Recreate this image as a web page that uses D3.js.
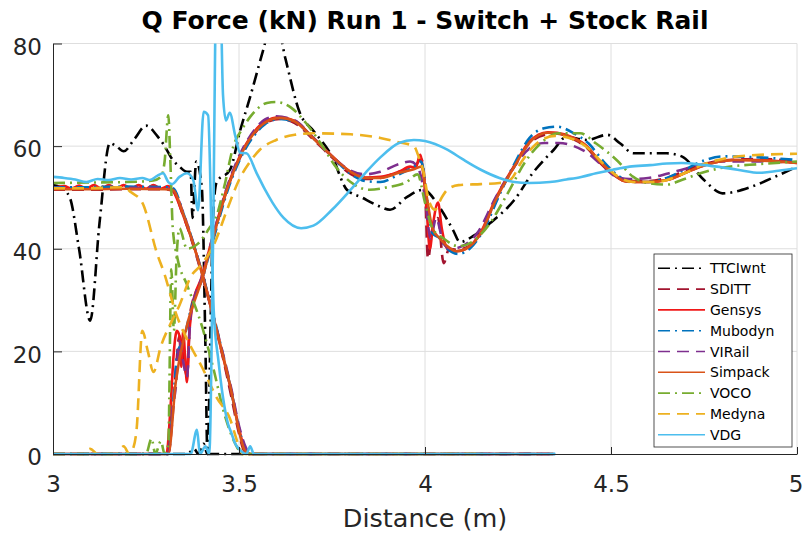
<!DOCTYPE html>
<html lang="en">
<head>
<meta charset="UTF-8" />
<title>Q Force (kN) Run 1 - Switch + Stock Rail</title>
<script src="https://d3js.org/d3.v7.min.js"></script>
<style>
  html, body { margin: 0; padding: 0; background: #ffffff; overflow: hidden; }
  svg { display: block; font-family: 'DejaVu Sans', sans-serif; }
  .grid line { stroke: #dedede; stroke-width: 1; }
  .axis path, .axis line { stroke: #262626; stroke-width: 1; }
  .axis text { font-size: 23px; fill: #262626; font-family: 'DejaVu Sans', sans-serif; }
  .title { font-size: 25px; font-weight: bold; fill: #000; text-anchor: middle; }
  .xlabel { font-size: 25.5px; fill: #262626; text-anchor: middle; }
  .legend text { font-size: 14px; fill: #000; }
</style>
</head>
<body>
<svg id="chart" width="803" height="540"></svg>
<script>
// ---- data ----
const xTicks = [3, 3.5, 4, 4.5, 5];
const xTickLabels = ["3", "3.5", "4", "4.5", "5"];
const yTicks = [0, 20, 40, 60, 80];
const yTickLabels = ["0", "20", "40", "60", "80"];

const modelNames = ["TTCIwnt", "SDITT", "Gensys", "Mubodyn", "VIRail", "Simpack", "VOCO", "Medyna", "VDG"];
const modelColors = ["#000000", "#A2142F", "#F01818", "#0072BD", "#7E2F8E", "#D95319", "#77AC30", "#EDB120", "#4DBEEE"];
const modelStyles = ["dashdot", "dash", "solid", "dashdot", "dash", "solid", "dashdot", "dash", "solid"];

// each model: stock rail (starts loaded, unloads) and switch rail (picks up load)
const ttciStock = [[3,52.4],[3.02,52],[3.045,50],[3.07,40],[3.1,26],[3.125,45],[3.153,60.6],[3.17,60],[3.19,59],[3.22,61.5],[3.25,64],[3.28,62],[3.3,60],[3.32,57.5],[3.34,56],[3.36,55],[3.37,55],[3.375,46],[3.385,57],[3.4,52],[3.41,20],[3.415,0],[4.315,0]];
const ttciSwitch = [[3,0],[3.36,0],[3.38,1],[3.39,0],[3.405,2],[3.415,0],[3.425,30],[3.43,46],[3.44,53],[3.476,55.4],[3.503,63],[3.53,69.6],[3.565,78.7],[3.595,86],[3.625,77],[3.664,66.4],[3.7,63],[3.75,58],[3.79,51.5],[3.83,50],[3.87,48.5],[3.906,47.6],[3.95,50],[3.995,51.5],[4.04,48],[4.075,43.7],[4.094,41.3],[4.13,42.5],[4.175,45],[4.24,49.5],[4.29,54.8],[4.345,59.2],[4.38,61.8],[4.435,61.2],[4.49,62.2],[4.525,60.5],[4.56,58.6],[4.65,58.6],[4.69,58],[4.75,53.4],[4.8,50.8],[4.874,52],[4.94,54],[5,56]];

const sdittStock = [[3,51.5],[3.1,51.5],[3.2,51.6],[3.3,51.6],[3.322,51.3],[3.35,46.5],[3.4,35],[3.45,21],[3.48,11],[3.5,4],[3.515,0.5],[3.53,0],[4.34,0]];
const sdittSwitch = [[3,0],[3.31,0],[3.32,6],[3.33,16],[3.34,23],[3.35,19],[3.36,15],[3.37,28],[3.4,34],[3.43,42],[3.47,52],[3.5,57.3],[3.54,62.3],[3.57,64.5],[3.61,65.3],[3.65,64.5],[3.7,61.3],[3.75,57.8],[3.8,54.6],[3.84,53.6],[3.88,53.8],[3.93,55],[3.97,55.8],[3.99,57.5],[4,52],[4.008,38],[4.02,44],[4.035,46],[4.05,37.2],[4.065,40],[4.085,39.8],[4.11,40.2],[4.15,43],[4.19,49.5],[4.24,56],[4.28,60.5],[4.33,62.3],[4.355,62.4],[4.4,61.3],[4.435,59.7],[4.47,56.8],[4.505,54.5],[4.54,53.2],[4.6,53.2],[4.65,53.8],[4.7,55.2],[4.74,56.3],[4.8,57.2],[4.9,57.5],[5,57]];

const gensysStock = [[3,51.8],[3.03,52.2],[3.05,51.7],[3.07,52.3],[3.09,51.7],[3.11,52.4],[3.13,51.7],[3.15,52.4],[3.17,51.7],[3.19,52.4],[3.21,51.7],[3.23,52.4],[3.25,51.7],[3.27,52.4],[3.29,51.7],[3.31,52.2],[3.325,51],[3.35,46.5],[3.4,35.5],[3.45,21],[3.48,12],[3.5,5],[3.515,1],[3.53,0],[4.345,0]];
const gensysSwitch = [[3,0],[3.305,0],[3.315,8],[3.325,20],[3.333,24],[3.34,23],[3.345,17],[3.35,24],[3.355,19],[3.36,14],[3.365,22],[3.375,29],[3.4,34.5],[3.43,42.5],[3.47,52.3],[3.5,57.7],[3.54,62.7],[3.57,64.8],[3.61,65.6],[3.65,64.9],[3.7,61.6],[3.75,58.1],[3.8,55],[3.84,53.9],[3.88,54],[3.93,55],[3.96,56],[3.975,55.8],[3.987,58.3],[3.995,55],[4.005,47],[4.013,40],[4.022,45],[4.035,49],[4.045,44],[4.06,40],[4.085,39.5],[4.11,40],[4.15,43.2],[4.19,49.8],[4.24,56.2],[4.28,60.8],[4.33,62.7],[4.355,62.6],[4.4,61.6],[4.435,60],[4.47,57],[4.505,54.7],[4.54,53.1],[4.6,53],[4.65,53.4],[4.7,54.8],[4.74,56],[4.83,57.3],[4.9,57.3],[5,56.7]];

const mubodynStock = [[3,52],[3.1,52],[3.2,52.1],[3.3,52],[3.323,51.8],[3.35,47],[3.4,35.5],[3.45,21.5],[3.48,12],[3.5,5],[3.52,0.5],[3.535,0],[4.35,0]];
const mubodynSwitch = [[3,0],[3.31,0],[3.32,7],[3.335,20],[3.35,22],[3.37,28],[3.4,34],[3.43,41.5],[3.47,51.5],[3.5,57],[3.54,62],[3.57,64.3],[3.61,65.3],[3.65,64.7],[3.7,61.5],[3.75,58],[3.8,54.6],[3.84,53.2],[3.88,53],[3.93,54.5],[3.97,56],[3.99,57],[4.005,50],[4.02,43],[4.04,42],[4.06,40],[4.09,39],[4.12,40],[4.16,44],[4.2,50.5],[4.24,56.5],[4.28,61.5],[4.32,63.5],[4.355,63.8],[4.4,62.5],[4.44,60.5],[4.48,57],[4.515,54.5],[4.55,53],[4.6,53],[4.65,53.8],[4.7,55.5],[4.75,57.2],[4.8,58],[4.9,57.8],[5,57.3]];

const virailStock = [[3,51.9],[3.1,51.8],[3.2,51.9],[3.3,51.8],[3.322,51.5],[3.35,47],[3.4,35.2],[3.45,21.5],[3.48,12.5],[3.5,5.5],[3.52,1],[3.535,0],[4.34,0]];
const virailSwitch = [[3,0],[3.31,0],[3.32,8],[3.33,13],[3.34,22],[3.35,18],[3.36,15],[3.37,27],[3.4,34.5],[3.43,42.5],[3.47,52.5],[3.5,58],[3.54,63],[3.57,65.2],[3.6,65.8],[3.65,65],[3.7,61.6],[3.75,58],[3.8,55.2],[3.84,54.5],[3.88,55],[3.93,56.5],[3.96,57],[3.98,56],[4,50],[4.015,42],[4.03,46],[4.05,41],[4.07,40],[4.1,40.5],[4.14,43],[4.19,50],[4.24,56],[4.28,59.5],[4.32,60.6],[4.36,60.6],[4.4,60],[4.44,58.5],[4.48,56],[4.515,54],[4.55,53.6],[4.6,53.8],[4.65,54.6],[4.7,55.6],[4.75,56.5],[4.8,57],[4.9,57],[5,56.8]];

const simpackStock = [[3,51.6],[3.1,51.6],[3.2,51.7],[3.3,51.6],[3.323,51.4],[3.35,46.8],[3.4,35.3],[3.45,21.2],[3.48,12],[3.5,4.5],[3.515,0.8],[3.53,0],[4.345,0]];
const simpackSwitch = [[3,0],[3.31,0],[3.33,14],[3.36,25],[3.4,34],[3.43,42],[3.47,52],[3.5,57.5],[3.54,62.5],[3.57,64.6],[3.61,65.5],[3.65,64.8],[3.7,61.5],[3.75,58],[3.8,55],[3.84,53.8],[3.88,53.8],[3.93,54.8],[3.97,55.5],[3.99,56],[4.005,50],[4.02,44],[4.04,42],[4.06,40.5],[4.085,39.5],[4.11,40],[4.15,43],[4.19,49.5],[4.24,56],[4.28,60.6],[4.33,62.6],[4.355,62.5],[4.4,61.5],[4.435,59.9],[4.47,57],[4.505,54.7],[4.54,53.1],[4.6,53],[4.65,53.4],[4.7,54.8],[4.74,56],[4.83,57.3],[4.9,57.2],[5,56.7]];

const vocoStock = [[3,52.8],[3.1,52.9],[3.2,53],[3.27,53.3],[3.29,54],[3.3,57],[3.31,66],[3.315,58],[3.322,44],[3.335,38],[3.36,33],[3.4,25],[3.43,17],[3.46,8],[3.49,2],[3.51,0],[4.16,0]];
const vocoSwitch = [[3,0],[3.25,0],[3.265,3],[3.275,0],[3.29,2.5],[3.3,0],[3.31,2],[3.318,36],[3.325,24],[3.332,38],[3.34,44],[3.36,40],[3.39,41],[3.42,44],[3.44,46.5],[3.46,52],[3.485,60],[3.51,63.5],[3.53,65.7],[3.575,68.4],[3.6,68.6],[3.64,67.5],[3.68,64.5],[3.72,60.5],[3.76,56],[3.8,53],[3.85,51.5],[3.9,52],[3.95,53],[3.98,54.5],[4,49],[4.02,44],[4.05,42],[4.09,40.5],[4.13,41.5],[4.17,44.5],[4.22,50.5],[4.27,57],[4.31,60.5],[4.36,62.5],[4.417,62.5],[4.46,60.5],[4.515,57.3],[4.56,54],[4.6,52.8],[4.65,52.5],[4.69,53.4],[4.74,54.7],[4.8,55.8],[4.9,56.5],[5,57]];

const medynaStock = [[3,51.8],[3.1,51.8],[3.19,52],[3.21,51],[3.24,49],[3.28,39],[3.3,35],[3.33,27.5],[3.37,21],[3.4,17],[3.44,11],[3.475,7],[3.5,1.5],[3.51,0],[4.15,0]];
const medynaSwitch = [[3,0],[3.08,0],[3.1,1],[3.12,0],[3.17,0],[3.19,1.5],[3.205,0],[3.215,1],[3.225,5],[3.24,24],[3.255,20],[3.27,16],[3.29,21],[3.32,26],[3.34,29],[3.37,34.5],[3.4,37],[3.43,40.4],[3.47,48],[3.5,53.4],[3.53,57],[3.556,59.3],[3.6,61.2],[3.65,62.2],[3.7,62.5],[3.8,62.3],[3.88,61.6],[3.925,60.8],[3.97,60],[3.985,57.5],[3.995,55.3],[4.01,49.5],[4.027,47.6],[4.045,50],[4.06,51.5],[4.09,52.4],[4.15,52.6],[4.2,52.8],[4.23,53.5],[4.26,57],[4.3,60.5],[4.35,62],[4.4,61.3],[4.44,59.5],[4.48,56.5],[4.52,54],[4.56,53],[4.62,53],[4.7,54.8],[4.75,56.5],[4.8,57.5],[4.9,58.3],[5,58.5]];

const vdgStock = [[3,54],[3.03,53.8],[3.06,53.5],[3.09,53],[3.12,53.6],[3.15,53.4],[3.18,53.8],[3.21,53.5],[3.24,53.8],[3.26,53.4],[3.28,54.2],[3.296,54.7],[3.31,53],[3.32,52.6],[3.34,54],[3.36,54.7],[3.377,53.4],[3.39,47.5],[3.405,66.7],[3.417,66],[3.426,43.7],[3.432,28],[3.445,18],[3.457,11],[3.47,6],[3.48,4],[3.49,2],[3.5,1],[3.52,0],[3.53,1.5],[3.54,0],[4.35,0]];
const vdgSwitch = [[3,0],[3.37,0],[3.387,4.7],[3.395,0],[3.41,1.5],[3.42,0],[3.43,40],[3.44,95],[3.45,90],[3.457,70],[3.465,65],[3.475,66.5],[3.49,62],[3.503,58.7],[3.52,58.6],[3.547,54.8],[3.57,51.5],[3.59,49],[3.62,46],[3.667,44],[3.7,44.5],[3.75,47.6],[3.8,51.5],[3.84,54.8],[3.88,57.8],[3.93,60.6],[3.97,61.2],[4,61],[4.06,59.3],[4.1,57.5],[4.15,55.4],[4.2,53.8],[4.24,53],[4.28,52.8],[4.336,53],[4.38,53.5],[4.42,54],[4.46,54.7],[4.505,55.4],[4.55,56],[4.605,56.3],[4.65,56.6],[4.69,56.7],[4.74,56.4],[4.785,56],[4.84,55.4],[4.9,54.8],[4.95,55.2],[5,55.7]];

const stockCurves = [ttciStock, sdittStock, gensysStock, mubodynStock, virailStock, simpackStock, vocoStock, medynaStock, vdgStock];
const switchCurves = [ttciSwitch, sdittSwitch, gensysSwitch, mubodynSwitch, virailSwitch, simpackSwitch, vocoSwitch, medynaSwitch, vdgSwitch];

// ---- layout ----
const plot = { left: 53, right: 797, top: 43.5, bottom: 454 };
const dashes = { solid: null, dash: "12,7", dashdot: "12,5,2,5" };

const svg = d3.select("#chart");
const x = d3.scaleLinear().domain([3, 5]).range([plot.left, plot.right]);
const y = d3.scaleLinear().domain([0, 80]).range([plot.bottom, plot.top]);

// grid
const grid = svg.append("g").attr("class", "grid");
grid.selectAll("line.gx").data(xTicks.slice(1)).enter().append("line")
  .attr("x1", d => x(d)).attr("x2", d => x(d))
  .attr("y1", plot.top).attr("y2", plot.bottom);
grid.selectAll("line.gy").data(yTicks.slice(1)).enter().append("line")
  .attr("x1", plot.left).attr("x2", plot.right)
  .attr("y1", d => y(d)).attr("y2", d => y(d));

svg.append("clipPath").attr("id", "clip")
  .append("rect")
  .attr("x", plot.left).attr("y", plot.top)
  .attr("width", plot.right - plot.left).attr("height", plot.bottom - plot.top + 6);

const line = d3.line()
  .x(d => x(d[0]))
  .y(d => y(d[1]))
  .curve(d3.curveMonotoneX);

const lines = svg.append("g").attr("clip-path", "url(#clip)");
modelNames.forEach((name, i) => {
  [stockCurves[i], switchCurves[i]].forEach(curve => {
    lines.append("path")
      .datum(curve)
      .attr("fill", "none")
      .attr("stroke", modelColors[i])
      .attr("stroke-width", 2.6)
      .attr("stroke-dasharray", dashes[modelStyles[i]])
      .attr("stroke-linejoin", "round")
      .attr("d", line);
  });
});

// axes
const xAxis = svg.append("g")
  .attr("class", "axis")
  .attr("transform", `translate(0,${plot.bottom})`)
  .call(d3.axisBottom(x).tickValues(xTicks)
    .tickFormat((d, i) => xTickLabels[i])
    .tickSizeInner(-7).tickSizeOuter(0).tickPadding(22));
// last label sits right at the figure edge
xAxis.selectAll(".tick:last-of-type text").attr("text-anchor", "end").attr("dx", "6");

const yAxis = svg.append("g")
  .attr("class", "axis")
  .attr("transform", `translate(${plot.left},0)`)
  .call(d3.axisLeft(y).tickValues(yTicks)
    .tickFormat((d, i) => yTickLabels[i])
    .tickSizeInner(-9).tickSizeOuter(0).tickPadding(11));
yAxis.selectAll("text").attr("dy", "0.47em");

// titles
svg.append("text").attr("class", "title")
  .attr("x", (plot.left + plot.right) / 2).attr("y", 28.5)
  .text("Q Force (kN) Run 1 - Switch + Stock Rail");

svg.append("text").attr("class", "xlabel")
  .attr("x", (plot.left + plot.right) / 2).attr("y", 527)
  .text("Distance (m)");

// legend
const legend = svg.append("g").attr("class", "legend");
legend.append("rect")
  .attr("x", 654).attr("y", 254).attr("width", 138).attr("height", 193)
  .attr("fill", "#fff").attr("stroke", "#262626").attr("stroke-width", 0.8);

const rows = legend.selectAll("g.row").data(modelNames).enter().append("g")
  .attr("class", "row")
  .attr("transform", (d, i) => `translate(0,${268.3 + i * 20.8})`);
rows.append("line")
  .attr("x1", 658).attr("x2", 705)
  .attr("stroke", (d, i) => modelColors[i])
  .attr("stroke-width", 1.6)
  .attr("stroke-dasharray", (d, i) => dashes[modelStyles[i]]);
rows.append("text")
  .attr("x", 710).attr("y", 5)
  .text(d => d);
</script>
</body>
</html>
